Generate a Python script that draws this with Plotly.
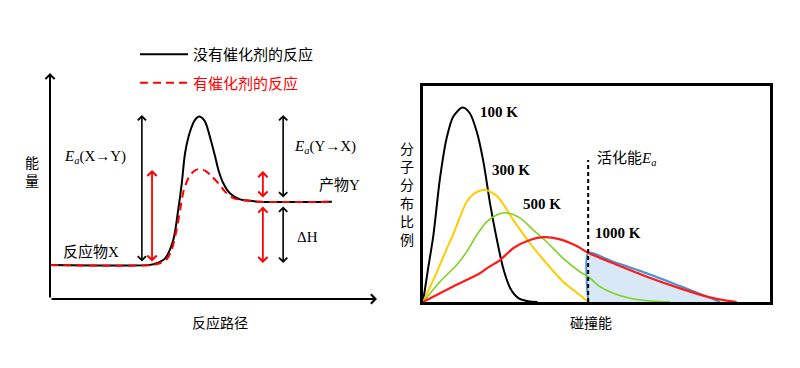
import plotly.graph_objects as go

# ---------------- Left panel: energy profile ----------------
path_uncat = [0, 30.6, 32.6, 35.2, 37.7, 39.2, 40.3, 41.3, 42.8, 44.3, 45.7, 47.4, 48.9, 50.5, 51.5, 53.0, 55.0, 58.1, 61.2, 64.2, 86.2]
energy_uncat = [15.0, 15.1, 15.8, 18.0, 26.1, 39.4, 51.2, 64.5, 74.0, 79.2, 80.7, 78.5, 71.8, 63.0, 57.1, 51.2, 46.8, 44.1, 43.5, 43.0, 43.0]

path_cat = [0, 30.6, 33.6, 35.7, 37.2, 38.7, 39.8, 40.8, 42.3, 43.8, 45.4, 47.4, 49.4, 51.5, 53.5, 55.6, 58.1, 61.2, 64.2, 86.2]
energy_cat = [15.0, 15.0, 15.8, 17.6, 21.7, 30.5, 39.4, 47.5, 53.4, 56.3, 57.5, 56.8, 54.4, 51.2, 47.5, 45.0, 43.8, 43.5, 43.0, 43.0]

legend_names = ["没有催化剂的反应", "有催化剂的反应"]

# double-headed arrows: (x, y_start, y_end, colour)
arrow_x = [28.1, 31.2, 65.1, 65.1, 71.3, 71.3]
arrow_y0 = [15.9, 15.9, 44.2, 41.6, 44.2, 41.6]
arrow_y1 = [81.4, 57.1, 56.6, 15.9, 81.4, 15.9]
arrow_col = ["black", "red", "red", "red", "black", "black"]

left_labels = ["<i>E</i><sub><i>a</i></sub>(X→Y)", "<i>E</i><sub><i>a</i></sub>(Y→X)", "产物Y", "ΔH", "反应物X"]
left_label_x = [13.8, 84.1, 88.4, 78.6, 12.5]
left_label_y = [62.8, 67.3, 50.4, 27.4, 21.2]

# ---------------- Right panel: Maxwell-Boltzmann ----------------
e_100 = [0, 1.4, 3.0, 4.9, 6.8, 8.7, 11.4, 13.5, 15.5, 17.4, 19.3, 21.2, 23.1, 25.1, 27.4, 30.3, 33.0]
f_100 = [0, 14.8, 31.0, 57.3, 75.8, 85.8, 90.0, 87.4, 78.8, 65.0, 45.8, 29.6, 15.7, 6.5, 1.9, 0.3, 0]

e_300 = [0, 3.9, 6.8, 8.7, 10.7, 12.6, 14.5, 16.4, 18.2, 21.6, 26.0, 30.8, 35.6, 40.4, 45.2, 47.6]
f_300 = [0, 13.5, 24.5, 31.3, 39.5, 46.4, 49.9, 51.5, 51.9, 48.6, 38.0, 27.2, 17.9, 9.4, 3.2, 0]

e_500 = [0, 4.9, 9.7, 12.6, 15.5, 18.4, 21.2, 23.9, 28.0, 31.8, 35.6, 40.4, 45.2, 47.6, 51.0, 54.8, 59.7, 64.5, 71.2]
f_500 = [0, 9.4, 17.1, 23.3, 31.0, 37.2, 40.3, 41.3, 38.8, 33.3, 27.9, 20.2, 14.0, 11.7, 7.1, 4.0, 1.7, 0.6, 0]

e_1000 = [0, 8.7, 16.4, 18.4, 22.2, 26.0, 30.8, 34.7, 39.5, 44.3, 47.6, 54.8, 64.5, 74.1, 81.8, 87.5, 90.4]
f_1000 = [0, 7.2, 13.3, 15.6, 19.4, 24.9, 28.7, 30.0, 29.0, 25.9, 22.8, 17.9, 11.7, 6.3, 2.5, 0.6, 0]

e_tail = [47.6, 47.6, 54.8, 64.5, 74.1, 80.8, 85.6]
f_tail = [0, 22.8, 18.7, 13.3, 7.4, 3.2, 0]

ea_value = 47.6
ea_line_top = 65.7

temp_labels = ["100 K", "300 K", "500 K", "1000 K"]
temp_label_x = [21.8, 25.4, 34.4, 56.1]
temp_label_y = [88.0, 61.1, 45.4, 31.9]

SERIF = "Liberation Serif, Noto Sans CJK SC"
CJK = "Noto Sans CJK SC, Liberation Serif"

fig = go.Figure()

fig.add_trace(go.Scatter(x=path_uncat, y=energy_uncat, mode="lines", line=dict(color="black", width=2, shape="spline", smoothing=0.8),
                         name=legend_names[0], legendgroup="a", xaxis="x", yaxis="y"))
fig.add_trace(go.Scatter(x=path_cat, y=energy_cat, mode="lines", line=dict(color="red", width=2, dash="8px,5px", shape="spline", smoothing=0.8),
                         name="<span style='color:red'>" + legend_names[1] + "</span>", legendgroup="b", xaxis="x", yaxis="y"))

fig.add_trace(go.Scatter(x=e_tail, y=f_tail, mode="lines", fill="toself", fillcolor="#d8e8f6",
                         line=dict(color="#4a8fd0", width=2, shape="spline", smoothing=0.6), showlegend=False, xaxis="x2", yaxis="y2"))
for ex, fy, col, w in [(e_100, f_100, "black", 2), (e_300, f_300, "#ffcc00", 2), (e_500, f_500, "#7dd321", 1.6), (e_1000, f_1000, "#ff1a1a", 2.2)]:
    fig.add_trace(go.Scatter(x=ex, y=fy, mode="lines", line=dict(color=col, width=w, shape="spline", smoothing=0.8),
                             showlegend=False, xaxis="x2", yaxis="y2"))
fig.add_trace(go.Scatter(x=[ea_value, ea_value], y=[0, ea_line_top], mode="lines", line=dict(color="black", width=2, dash="4px,3px"),
                         showlegend=False, xaxis="x2", yaxis="y2"))

ann = []
# axes arrows of left panel
ann.append(dict(x=0, y=100, ax=0, ay=0, xref="x", yref="y", axref="x", ayref="y", text="", showarrow=True,
                arrowhead=4, arrowsize=0.9, arrowwidth=2, arrowcolor="black", standoff=0))
ann.append(dict(x=100, y=0, ax=0, ay=0, xref="x", yref="y", axref="x", ayref="y", text="", showarrow=True,
                arrowhead=4, arrowsize=0.9, arrowwidth=2, arrowcolor="black", standoff=0))
for ax_, y0, y1, c in zip(arrow_x, arrow_y0, arrow_y1, arrow_col):
    ann.append(dict(x=ax_, y=y1, ax=ax_, ay=y0, xref="x", yref="y", axref="x", ayref="y", text="", showarrow=True,
                    arrowhead=4, startarrowhead=4, arrowside="end+start", arrowsize=1, startarrowsize=1,
                    arrowwidth=1.8 if c == "red" else 1.6, arrowcolor=c, standoff=0, startstandoff=0))
for t, lx, ly in zip(left_labels, left_label_x, left_label_y):
    ann.append(dict(x=lx, y=ly, xref="x", yref="y", text=t, showarrow=False, font=dict(family=SERIF, size=15, color="black")))
for t, lx, ly in zip(temp_labels, temp_label_x, temp_label_y):
    ann.append(dict(x=lx, y=ly, xref="x2", yref="y2", text="<b>" + t + "</b>", showarrow=False,
                    font=dict(family="Liberation Serif", size=15, color="black")))
ann.append(dict(x=49.6, y=66.2, xref="x2", yref="y2", xanchor="left", text="活化能<i>E</i><sub><i>a</i></sub>", showarrow=False,
                font=dict(family=SERIF, size=15, color="black")))
# axis titles
for txt, px, py in [("能<br>量", 32, 171), ("反应路径", 220, 322), ("分<br>子<br>分<br>布<br>比<br>例", 407, 193), ("碰撞能", 591, 322)]:
    ann.append(dict(x=px / 800, y=1 - py / 368, xref="paper", yref="paper", xanchor="center", yanchor="middle",
                    text=txt, showarrow=False, font=dict(family=CJK, size=14, color="black")))

hidden = dict(visible=False, showgrid=False, zeroline=False)
fig.update_layout(
    width=800, height=368, margin=dict(l=0, r=0, t=0, b=0),
    paper_bgcolor="white", plot_bgcolor="white",
    xaxis=dict(domain=[50 / 800, 377 / 800], range=[0, 100], **hidden),
    yaxis=dict(domain=[(368 - 299) / 368, (368 - 73) / 368], range=[0, 100], **hidden),
    xaxis2=dict(domain=[423 / 800, 770 / 800], range=[0, 100], anchor="y2", showline=True, mirror=True, linecolor="black",
                linewidth=3, showticklabels=False, ticks="", showgrid=False, zeroline=False),
    yaxis2=dict(domain=[(368 - 302) / 368, (368 - 86) / 368], range=[0, 100], anchor="x2", showline=True, mirror=True,
                linecolor="black", linewidth=3, showticklabels=False, ticks="", showgrid=False, zeroline=False),
    showlegend=True,
    legend=dict(x=135 / 800, y=1 - 38 / 368, xanchor="left", yanchor="top", traceorder="grouped", tracegroupgap=6,
                font=dict(family=CJK, size=15, color="black"), bgcolor="rgba(0,0,0,0)", itemwidth=48),
    annotations=ann,
)

fig.write_html("out.html", config={"displayModeBar": False},
               post_script="document.body.style.margin='0';document.body.style.overflow='hidden';")
